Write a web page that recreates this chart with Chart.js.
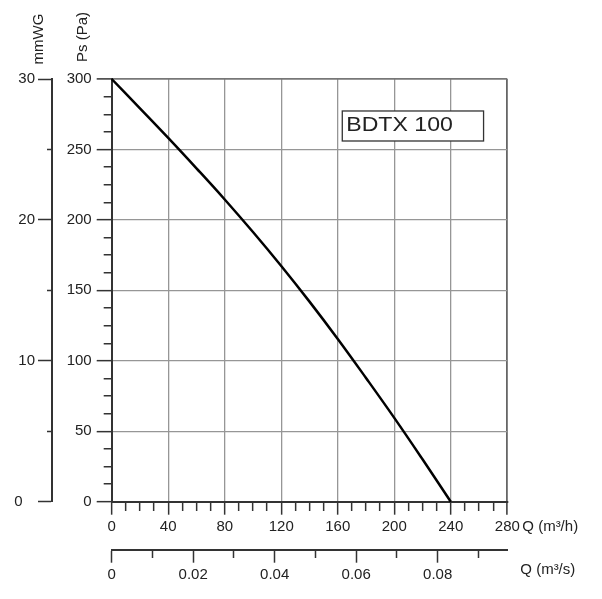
<!DOCTYPE html>
<html><head><meta charset="utf-8">
<script src="https://cdn.jsdelivr.net/npm/chart.js@4/dist/chart.umd.min.js"></script>
<style>html,body{margin:0;padding:0;background:#fff;}</style>
</head><body>
<canvas id="c" width="602" height="599"></canvas>
<script>
// ---- data ----
const flowM3h = [0, 20, 40, 60, 80, 100, 120, 140, 160, 180, 200, 220, 240];
const pressurePa = [300, 279.2, 258.2, 236.6, 214.5, 191.4, 167.3, 142, 115.5, 87.8, 59.5, 30.1, 0];
// ---- ticks ----
const qhTickValues = [0,10,20,30,40,50,60,70,80,90,100,110,120,130,140,150,160,170,180,190,200,210,220,230,240,250,260,270,280];
const qhLabelValues = [0, 40, 80, 120, 160, 200, 240, 280];
const paTickValues = [0,12.5,25,37.5,50,62.5,75,87.5,100,112.5,125,137.5,150,162.5,175,187.5,200,212.5,225,237.5,250,262.5,275,287.5,300];
const paLabelValues = [0, 50, 100, 150, 200, 250, 300];
const mmwgTickValues = [0, 5, 10, 15, 20, 25, 30];
const mmwgLabelValues = [0, 10, 20, 30];
const qsTickValues = [0, 0.01, 0.02, 0.03, 0.04, 0.05, 0.06, 0.07, 0.08, 0.09];
const qsLabelValues = [0, 0.02, 0.04, 0.06, 0.08];
const modelName = 'BDTX 100';
const titlePa = 'Ps (Pa)';
const titleMmwg = 'mmWG';
const titleQh = 'Q (m³/h)';
const titleQs = 'Q (m³/s)';

const FONT = '"Liberation Sans", Arial, Helvetica, sans-serif';
const TXT = '#222';
const AX = '#333';
const GRID = '#969696';
const CLEAR = 'rgba(0,0,0,0)';
Chart.defaults.font.family = FONT;

const setTicks = arr => s => { s.ticks = arr.map(v => ({ value: v })); };
const tv = c => (c.tick ? c.tick.value : null);

const annot = {
  id: 'annot',
  afterDraw(chart) {
    const ctx = chart.ctx;
    const sx = chart.scales.x, sy = chart.scales.y, sy2 = chart.scales.y2, sx2 = chart.scales.x2;
    const ca = chart.chartArea;
    ctx.save();
    // model box
    const bx1 = sx.getPixelForValue(163.2), bx2 = sx.getPixelForValue(263.2);
    const by1 = sy.getPixelForValue(277.3), by2 = sy.getPixelForValue(256);
    ctx.fillStyle = '#fff';
    ctx.fillRect(bx1, by1, bx2 - bx1, by2 - by1);
    ctx.strokeStyle = AX; ctx.lineWidth = 1.3;
    ctx.strokeRect(bx1, by1, bx2 - bx1, by2 - by1);
    ctx.fillStyle = TXT;
    ctx.save();
    ctx.translate(bx1 + 4, by1 + 19.7);
    ctx.scale(1.1, 1);
    ctx.font = '21px ' + FONT;
    ctx.textAlign = 'left'; ctx.textBaseline = 'alphabetic';
    ctx.fillText(modelName, 0, 0);
    ctx.restore();
    // axis titles
    ctx.font = '15px ' + FONT;
    ctx.fillStyle = TXT;
    ctx.textAlign = 'center'; ctx.textBaseline = 'alphabetic';
    ctx.save(); ctx.translate(sy.left + 35, ca.top - 42); ctx.rotate(-Math.PI / 2);
    ctx.fillText(titlePa, 0, 0); ctx.restore();
    ctx.save(); ctx.translate(sy2.right - 9.3, ca.top - 40); ctx.rotate(-Math.PI / 2);
    ctx.fillText(titleMmwg, 0, 0); ctx.restore();
    ctx.textAlign = 'left';
    ctx.fillText(titleQh, sx.right + 15, sx.top + 29);
    ctx.fillText(titleQs, sx.right + 13, sx2.top + 24.5);
    ctx.restore();
  }
};

new Chart(document.getElementById('c'), {
  type: 'line',
  data: {
    datasets: [{
      data: flowM3h.map((q, i) => ({ x: q, y: pressurePa[i] })),
      borderColor: '#000', borderWidth: 2.5, pointRadius: 0,
      tension: 0.4, clip: false,
      xAxisID: 'x', yAxisID: 'y'
    }]
  },
  options: {
    responsive: false, animation: false, devicePixelRatio: 1,
    layout: { padding: { top: 79, right: 94.7, bottom: 0, left: 0 } },
    plugins: { legend: { display: false }, tooltip: { enabled: false } },
    scales: {
      x: {
        type: 'linear', position: 'bottom', weight: 0, min: 0, max: 280,
        afterBuildTicks: setTicks(qhTickValues),
        afterFit: s => { s.height = 48; },
        ticks: { autoSkip: false, maxRotation: 0, padding: 3, color: TXT, font: { size: 15 },
          callback: v => qhLabelValues.includes(v) ? String(v) : '' },
        grid: {
          color: c => (tv(c) > 0 && qhLabelValues.includes(tv(c))) ? (tv(c) === 280 ? '#666' : GRID) : CLEAR,
          lineWidth: c => tv(c) === 280 ? 1.8 : 1.3,
          tickColor: AX, tickWidth: 1.5, tickLength: 13,
          tickBorderDash: c => qhLabelValues.includes(tv(c)) ? [] : [8, 100]
        },
        border: { display: true, color: AX, width: 2 }
      },
      x2: {
        type: 'linear', position: 'bottom', weight: 1, min: 0, max: 0.0971,
        afterBuildTicks: setTicks(qsTickValues),
        afterFit: s => { s.height = 49.3; },
        ticks: { autoSkip: false, maxRotation: 0, padding: 3, color: TXT, font: { size: 15 },
          callback: v => qsLabelValues.includes(v) ? (v === 0 ? '0' : v.toFixed(2)) : '' },
        grid: {
          drawOnChartArea: false, tickColor: AX, tickWidth: 1.5, tickLength: 13,
          tickBorderDash: c => qsLabelValues.includes(tv(c)) ? [] : [7, 100]
        },
        border: { display: true, color: AX, width: 2 }
      },
      y: {
        type: 'linear', position: 'left', weight: 0, min: 0, max: 300,
        afterBuildTicks: setTicks(paTickValues),
        afterFit: s => { s.width = 59.7; },
        ticks: { autoSkip: false, padding: 5, color: TXT, font: { size: 15 },
          callback: v => paLabelValues.includes(v) ? String(v) : '' },
        grid: {
          color: c => (tv(c) > 0 && paLabelValues.includes(tv(c))) ? (tv(c) === 300 ? '#777' : GRID) : CLEAR,
          lineWidth: c => tv(c) === 300 ? 1.8 : 1.3,
          tickColor: AX, tickWidth: 1.5, tickLength: 15,
          tickBorderDash: c => paLabelValues.includes(tv(c)) ? [] : [0, 7, 8, 0]
        },
        border: { display: true, color: AX, width: 2 }
      },
      y2: {
        type: 'linear', position: 'left', weight: 1, min: 0, max: 30,
        afterBuildTicks: setTicks(mmwgTickValues),
        afterFit: s => { s.width = 52; },
        ticks: { autoSkip: false, padding: 3, color: TXT, font: { size: 15 },
          callback: v => mmwgLabelValues.includes(v) ? (v === 0 ? '0   ' : String(v)) : '' },
        grid: {
          drawOnChartArea: false, tickColor: AX, tickWidth: 1.5, tickLength: 14,
          tickBorderDash: c => mmwgLabelValues.includes(tv(c)) ? [] : [0, 9, 5, 0]
        },
        border: { display: true, color: AX, width: 2 }
      }
    }
  },
  plugins: [annot]
});
</script>
</body></html>
